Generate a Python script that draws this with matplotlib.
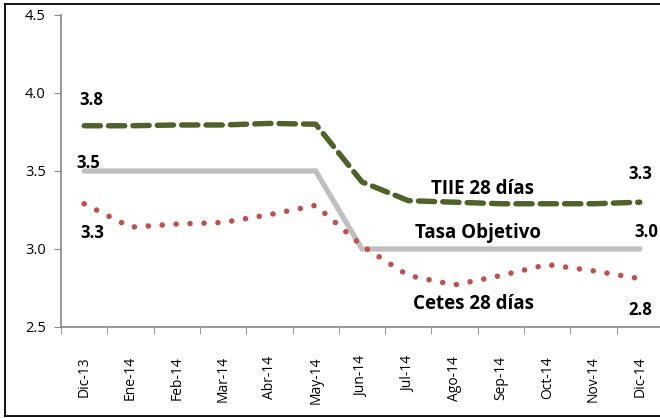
import matplotlib
matplotlib.use('Agg')
import matplotlib.pyplot as plt
from matplotlib.lines import Line2D
import numpy as np

plt.rcParams['font.family'] = ['Open Sans', 'DejaVu Sans']

meses = ['Dic-13', 'Ene-14', 'Feb-14', 'Mar-14', 'Abr-14', 'May-14', 'Jun-14',
         'Jul-14', 'Ago-14', 'Sep-14', 'Oct-14', 'Nov-14', 'Dic-14']
tiie = [3.79, 3.79, 3.795, 3.795, 3.805, 3.80, 3.43, 3.31, 3.30, 3.29, 3.29, 3.29, 3.30]
objetivo = [3.5, 3.5, 3.5, 3.5, 3.5, 3.5, 3.0, 3.0, 3.0, 3.0, 3.0, 3.0, 3.0]
cetes = [3.29, 3.14, 3.16, 3.17, 3.22, 3.28, 3.02, 2.83, 2.77, 2.83, 2.90, 2.86, 2.81]

x = np.arange(len(meses))

fig = plt.figure(figsize=(6.6, 4.18), dpi=100)
ax = fig.add_axes([61/660, 1 - 327/418, 602/660, 312/418])

# lineas
ax.plot(x, objetivo, color='#BFBFBF', lw=3.8, solid_capstyle='round', solid_joinstyle='miter', zorder=2)
ax.plot(x, tiie, color='#4F6228', lw=3.9, dashes=(3.0, 1.5), dash_capstyle='round', zorder=3)
ax.plot(x, cetes, color='#C0504D', lw=4.0, dashes=(0.01, 2.5), dash_capstyle='round', zorder=4)

ax.set_xlim(-0.5, len(meses) - 0.5)
ax.set_ylim(2.5, 4.5)
ax.set_yticks([2.5, 3.0, 3.5, 4.0, 4.5])
ax.set_yticklabels(['%.1f' % v for v in [2.5, 3.0, 3.5, 4.0, 4.5]], fontsize=10.5)
ax.set_xticks(x)
ax.set_xticklabels(meses, rotation=90, fontsize=10)
ax.set_xticks(np.arange(-0.5, len(meses)), minor=True)
ax.tick_params(axis='x', which='major', length=0, pad=21)
ax.tick_params(axis='x', which='minor', length=5, color='#868686', direction='out')
ax.tick_params(axis='y', length=5, color='#868686', direction='out', pad=6)

for s in ['top', 'right']:
    ax.spines[s].set_visible(False)
for s in ['left', 'bottom']:
    ax.spines[s].set_color('#868686')
    ax.spines[s].set_linewidth(1.2)

# etiquetas
kw = dict(fontsize=12, fontweight='bold', ha='center', va='center')
ax.text(x[0] + 0.15, tiie[0] + 0.165, '%.1f' % tiie[0], **kw)
ax.text(x[0] + 0.08, objetivo[0] + 0.05, '%.1f' % objetivo[0], **kw)
ax.text(x[0] + 0.17, cetes[0] - 0.19, '%.1f' % cetes[0], **kw)
ax.text(x[-1] + 0.02, tiie[-1] + 0.18, '%.1f' % tiie[-1], **kw)
ax.text(x[-1] + 0.15, objetivo[-1] + 0.11, '%.1f' % objetivo[-1], **kw)
ax.text(x[-1] + 0.02, cetes[-1] - 0.20, '%.1f' % cetes[-1], **kw)

kw2 = dict(fontsize=13.5, fontweight='bold', ha='center', va='center')
ax.text(8.6, 3.385, 'TIIE 28 días', **kw2)
ax.text(8.5, 3.105, 'Tasa Objetivo', **kw2)
ax.text(8.4, 2.65, 'Cetes 28 días', **kw2)

# marco del grafico
for xs, ys in [((5/660, 1), (1 - 4/418, 1 - 4/418)),
               ((5/660, 5/660), (1 - 4/418, 1 - 416/418)),
               ((5/660, 1), (1 - 416/418, 1 - 416/418))]:
    fig.add_artist(Line2D(xs, ys, color='black', lw=1.3))

fig.savefig('out.png', dpi=100)
